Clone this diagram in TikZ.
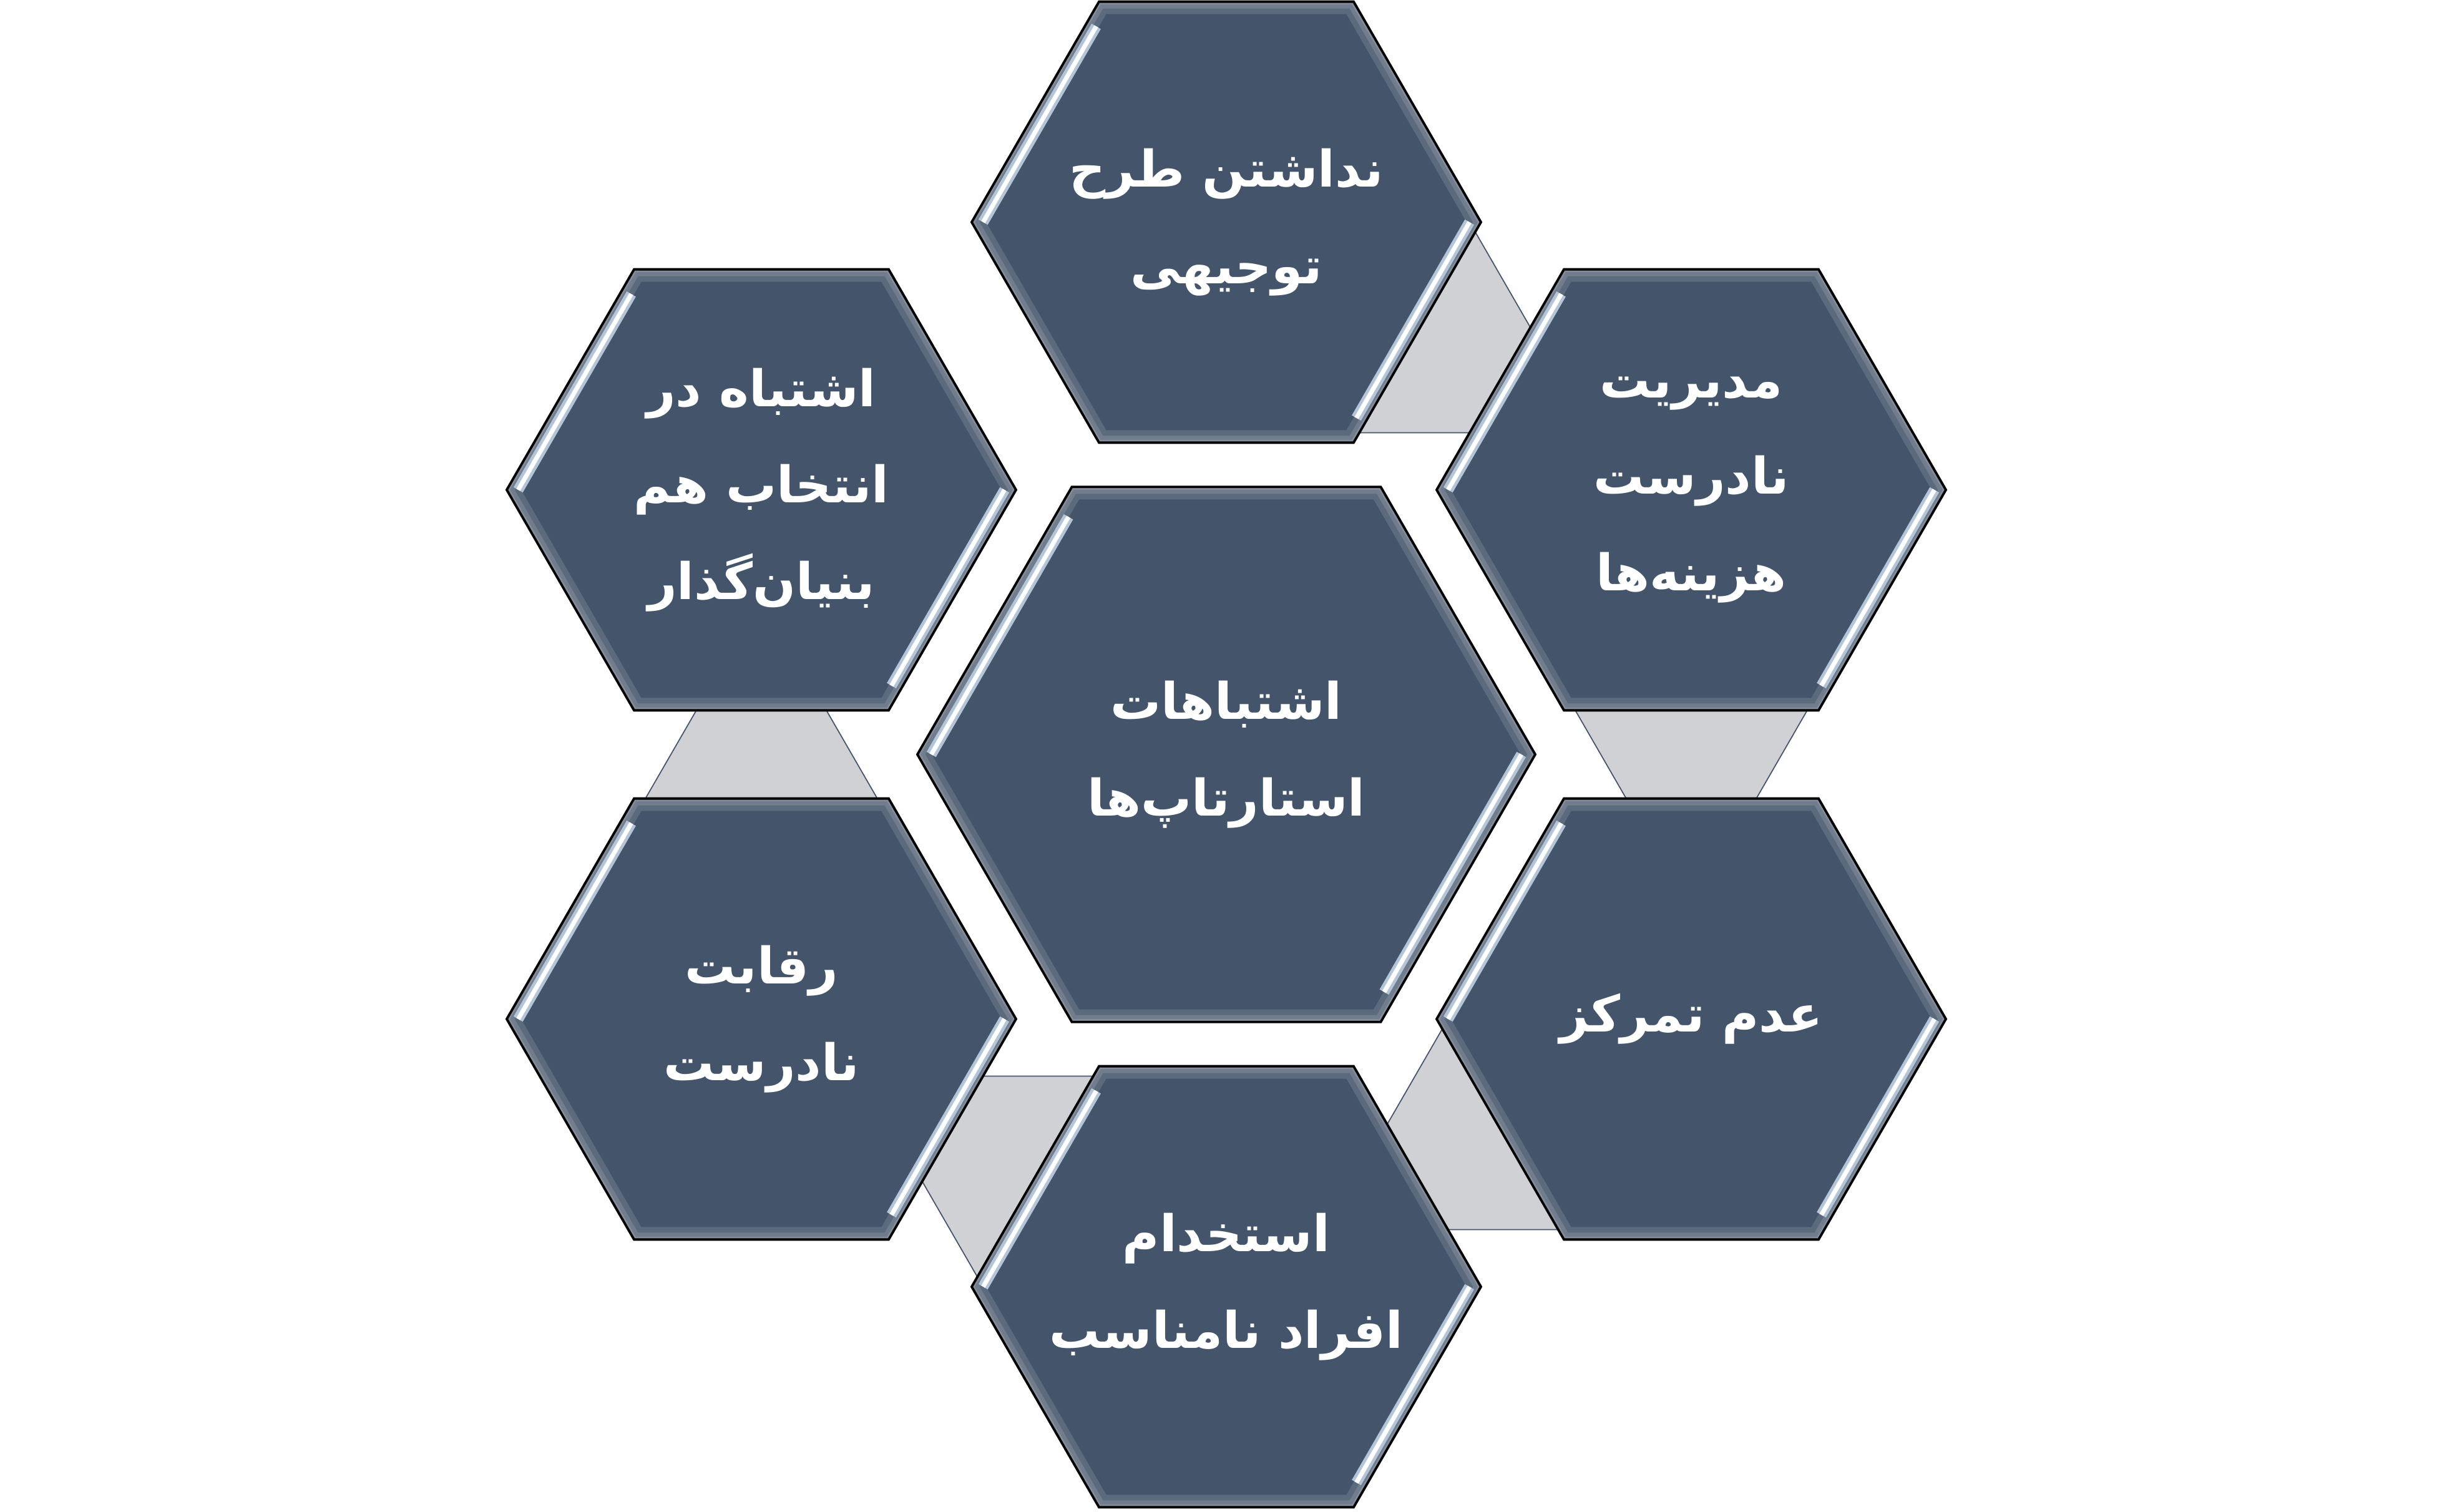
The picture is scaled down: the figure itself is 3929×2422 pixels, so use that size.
\documentclass[tikz,border=0pt]{standalone}
\usepackage{fontspec}
\usetikzlibrary{calc}
\newfontfamily\arabicfont[Script=Arabic]{DejaVu Sans}
\TeXXeTstate=1
\definecolor{slate}{HTML}{44546A}
\definecolor{linkgray}{HTML}{CFD1D5}
\definecolor{shinebase}{HTML}{B4C5D8}
\newcommand{\fa}[1]{\beginR#1\endR}
\newcommand{\hexa}[1]{++(0:#1) -- ++(120:#1) -- ++(180:#1) -- ++(240:#1) -- ++(300:#1) -- ++(0:#1) -- cycle}
\pgfdeclarelayer{back}
\pgfdeclarelayer{mid}
\pgfsetlayers{back,mid,main}

\begin{document}
\begin{tikzpicture}[x=0.1mm,y=0.1mm]
  \tikzstyle{caption}=[text=white,align=center,inner sep=0pt,font=\arabicfont\bfseries\fontsize{23}{44}\selectfont]
  \tikzstyle{link}=[fill=linkgray,draw=slate,line width=0.5pt]
  \tikzstyle{rim}=[draw=black,line width=1.1pt,line join=miter]
  \tikzstyle{glow}=[draw=white,draw opacity=0.13]
  \tikzstyle{shine}=[shinebase,line width=1.7mm]
  \tikzstyle{shinecore}=[white,line width=0.7mm]
  \useasboundingbox (-1965,-1213) rectangle (1964,1209);
  \foreach \n/\px/\py/\rad/\txt in {
      core/0/0/495/{\fa{اشتباهات}\\\fa{استارتاپ‌ها}},
      top/0/853/408/{\fa{نداشتن طرح}\\\fa{توجیهی}},
      ne/745/424/408/{\fa{مدیریت}\\\fa{نادرست}\\\fa{هزینه‌ها}},
      se/745/-424/408/{\fa{عدم تمرکز}},
      bot/0/-853/408/{\fa{استخدام}\\\fa{افراد نامناسب}},
      sw/-745/-424/408/{\fa{رقابت}\\\fa{نادرست}},
      nw/-745/424/408/{\fa{اشتباه در}\\\fa{انتخاب هم}\\\fa{بنیان‌گذار}}}{
    \node[caption] (\n) at (\px,\py) {\txt};
    \begin{pgfonlayer}{mid}
      \begin{scope}[shift={(\px,\py)}]
        \fill[slate] (0,0) \hexa{\rad};
        \begin{scope}
          \clip (0,0) \hexa{\rad};
          \foreach \w in {4mm,2.2mm,0.9mm}
            \draw[glow,line width=\w] (0,0) \hexa{\rad};
        \end{scope}
        \foreach \ang/\angb in {180/120,0/300}{
          \draw[shine] (\ang:{0.955*\rad}) -- ($(\ang:{0.955*\rad})!0.93!(\angb:{0.955*\rad})$);
          \draw[shinecore] (\ang:{0.955*\rad}) -- ($(\ang:{0.955*\rad})!0.93!(\angb:{0.955*\rad})$);
        }
        \draw[rim] (0,0) \hexa{\rad};
      \end{scope}
    \end{pgfonlayer}
  }
  \begin{pgfonlayer}{back}
    \foreach \n/\d in {top/-30,ne/-90,se/-150,bot/150,sw/90}
      \filldraw[link] ($(\n)+(\d:353)$) \hexa{186};
  \end{pgfonlayer}
\end{tikzpicture}
\end{document}
